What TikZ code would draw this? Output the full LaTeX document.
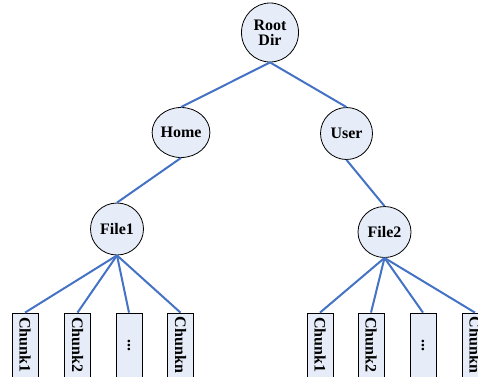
\documentclass[tikz,border=0pt]{standalone}
\usepackage{fontspec}
\setmainfont{Liberation Serif}
\usetikzlibrary{shapes.geometric}
\definecolor{nodefill}{HTML}{E6EDF8}
\definecolor{linkblue}{HTML}{4472C4}
\begin{document}
\begin{tikzpicture}[x=1pt,y=-1pt,
  dirnode/.style={ellipse,draw=black,line width=0.8pt,fill=nodefill,inner sep=0pt,
    font=\fontsize{16}{17}\selectfont\bfseries,align=center},
  chunkbox/.style={rectangle,draw=black,line width=0.8pt,fill=nodefill,inner sep=0pt,
    minimum width=26pt,minimum height=64pt},
  chunktext/.style={rotate=-90,font=\fontsize{16}{17}\selectfont\bfseries,inner sep=0pt},
  link/.style={draw=linkblue,line width=2pt}]
\clip (0,0) rectangle (478,376);
\useasboundingbox (0,0) rectangle (478,376);
\node[dirnode,minimum width=57pt,minimum height=59pt] (root) at (270,32.5) {Root\\[-2pt]Dir};
\node[dirnode,minimum width=53pt,minimum height=50pt] (home) at (181,132.5) {Home};
\node[dirnode,minimum width=52pt,minimum height=52pt] (user) at (346.5,133.5) {User};
\node[dirnode,minimum width=53pt,minimum height=52pt] (file1) at (117,229) {File1};
\node[dirnode,minimum width=53pt,minimum height=51pt] (file2) at (384.5,232) {File2};
\node[chunkbox] (c11) at (25,345) {};
\node[chunkbox] (c12) at (77.5,345) {};
\node[chunkbox] (c13) at (129,345) {};
\node[chunkbox] (c14) at (180.5,345) {};
\node[chunkbox] (c21) at (320,345) {};
\node[chunkbox] (c22) at (371,345) {};
\node[chunkbox] (c23) at (423,345) {};
\node[chunkbox] (c24) at (475,345) {};
\node[chunktext] (t11) at (c11) {Chunk1};
\node[chunktext] (t12) at (c12) {Chunk2};
\node[chunktext] (t13) at (c13) {...};
\node[chunktext] (t14) at (c14) {Chunkn};
\node[chunktext] (t21) at (c21) {Chunk1};
\node[chunktext] (t22) at (c22) {Chunk2};
\node[chunktext] (t23) at (c23) {...};
\node[chunktext] (t24) at (c24) {Chunkn};
\path[link] (root.south) -- (home.north);
\path[link] (root.south) -- (user.north);
\path[link] (home.south) -- (file1.north);
\path[link] (user.south) -- (file2.north);
\foreach \c in {c11,c12,c13,c14} {\path[link] (file1.south) -- (\c.north);}
\foreach \c in {c21,c22,c23,c24} {\path[link] (file2.south) -- (\c.north);}
\end{tikzpicture}
\end{document}
